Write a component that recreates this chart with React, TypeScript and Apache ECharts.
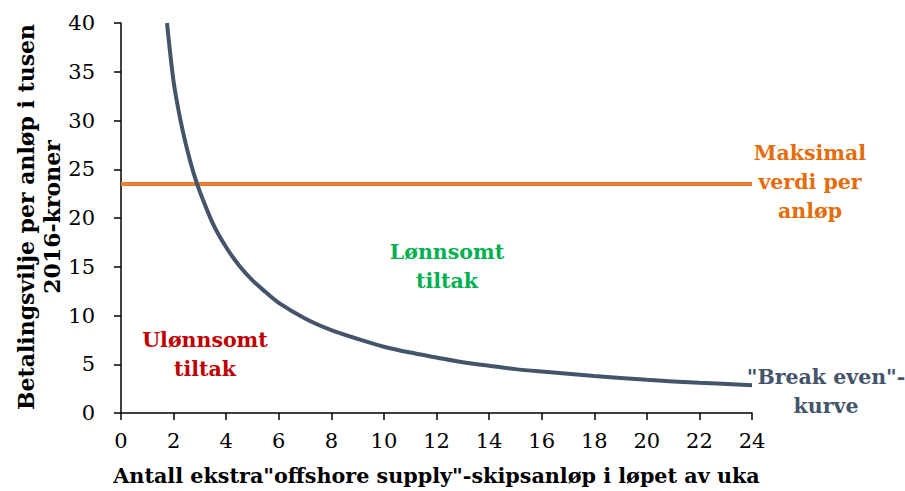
import React, { useEffect, useRef } from "react";
import * as echarts from "echarts";

const xValues = [1.75, 2, 2.25, 2.5, 2.75, 3, 3.5, 4, 4.5, 5, 5.5, 6, 7, 8, 9, 10, 11, 12, 13, 14, 15, 16, 18, 20, 22, 24];
const breakEven = [40, 34, 30.2, 27.2, 24.7, 22.7, 19.4, 17, 15.1, 13.6, 12.4, 11.3, 9.7, 8.5, 7.6, 6.8, 6.2, 5.7, 5.2, 4.85, 4.5, 4.25, 3.8, 3.4, 3.1, 2.85];
const maxValueX = [0, 24];
const maxValue = [23.5, 23.5];

const FONT = "DejaVu Serif";
const X_MIN = 0, X_MAX = 24, X_STEP = 2;
const Y_MIN = 0, Y_MAX = 40, Y_STEP = 5;

export default function App() {
  const ref = useRef<HTMLDivElement>(null);
  useEffect(() => {
    document.body.style.margin = "0";
    const chart = echarts.init(ref.current!, null, { renderer: "svg" });
    const labelStyle = (color: string) => ({
      fill: color,
      font: `bold 20.5px "${FONT}"`,
      textAlign: "center" as const,
      textVerticalAlign: "middle" as const,
      lineHeight: 29,
    });
    const tickFont = { fontFamily: FONT, fontSize: 21, color: "#000" };
    chart.setOption({
      animation: false,
      backgroundColor: "#ffffff",
      grid: { left: 121, right: 153, top: 23, bottom: 77 },
      xAxis: [
        {
          type: "value",
          min: X_MIN,
          max: X_MAX,
          interval: X_STEP,
          name: 'Antall ekstra"offshore supply"-skipsanløp i løpet av uka',
          nameLocation: "middle",
          nameGap: 52,
          nameTextStyle: { fontFamily: FONT, fontWeight: "bold", fontSize: 20.7, color: "#000" },
          axisLine: { lineStyle: { color: "#000", width: 1.5 } },
          axisTick: { inside: false, length: 7, lineStyle: { color: "#000", width: 1.5 } },
          axisLabel: { show: false },
          splitLine: { show: false },
        },
        {
          type: "value",
          position: "bottom",
          offset: 5,
          min: X_MIN,
          max: X_MAX,
          interval: X_STEP,
          axisLine: { show: false },
          axisTick: { show: false },
          axisLabel: { ...tickFont, margin: 12 },
          splitLine: { show: false },
        },
      ],
      yAxis: [
        {
          type: "value",
          min: Y_MIN,
          max: Y_MAX,
          interval: Y_STEP,
          axisLine: { show: true, lineStyle: { color: "#000", width: 1.5 } },
          axisTick: { show: true, inside: false, length: 7, lineStyle: { color: "#000", width: 1.5 } },
          axisLabel: { show: false },
          splitLine: { show: false },
        },
        {
          type: "value",
          position: "left",
          offset: 20,
          min: Y_MIN,
          max: Y_MAX,
          interval: Y_STEP,
          axisLine: { show: false },
          axisTick: { show: false },
          axisLabel: { ...tickFont, margin: 6, align: "right" },
          splitLine: { show: false },
        },
      ],
      series: [
        {
          type: "line",
          data: maxValueX.map((x, i) => [x, maxValue[i]]),
          showSymbol: false,
          lineStyle: { color: "#ED7D31", width: 4 },
          z: 2,
        },
        {
          type: "line",
          data: xValues.map((x, i) => [x, breakEven[i]]),
          smooth: 0.3,
          showSymbol: false,
          lineStyle: { color: "#44546A", width: 4 },
          z: 3,
        },
      ],
      graphic: [
        {
          type: "text",
          x: 39,
          y: 217,
          rotation: Math.PI / 2,
          style: {
            text: "Betalingsvilje per anløp i tusen\n2016-kroner",
            fill: "#000",
            font: `bold 22px "${FONT}"`,
            textAlign: "center",
            textVerticalAlign: "middle",
            lineHeight: 26,
          },
        },
        { type: "text", x: 447, y: 266, style: { text: "Lønnsomt\ntiltak", ...labelStyle("#00B050") } },
        { type: "text", x: 205, y: 354, style: { text: "Ulønnsomt\ntiltak", ...labelStyle("#C00000") } },
        { type: "text", x: 810, y: 182, style: { text: "Maksimal\nverdi per\nanløp", ...labelStyle("#E46C0A") } },
        { type: "text", x: 826, y: 391, style: { text: '"Break even"-\nkurve', ...labelStyle("#44546A") } },
      ],
    });
    return () => chart.dispose();
  }, []);
  return <div ref={ref} style={{ width: 905, height: 491 }} />;
}
